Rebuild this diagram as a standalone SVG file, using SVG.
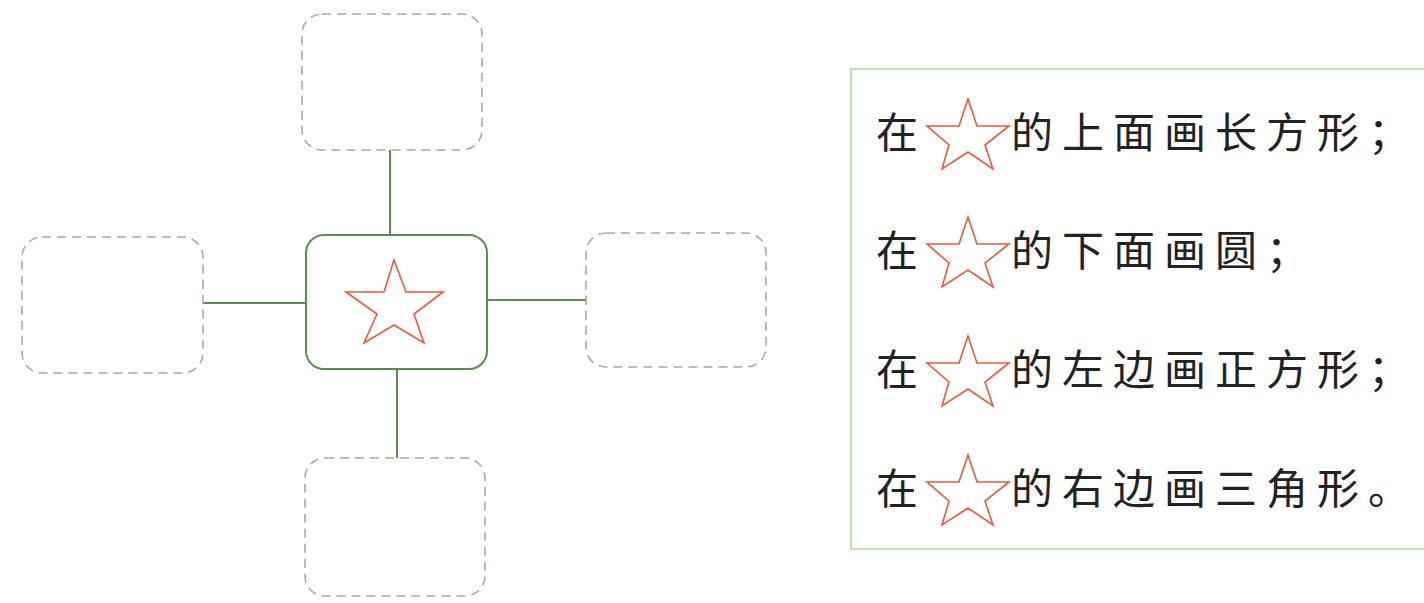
<svg xmlns="http://www.w3.org/2000/svg" width="1424" height="603" viewBox="0 0 1424 603">
<style>
.dash{fill:none;stroke:#a5ad94;stroke-width:1.6;stroke-dasharray:9 6}
.ctr{fill:#fff;stroke:#5e8c4e;stroke-width:2}
.conn{stroke:#5e8c4e;stroke-width:2;fill:none}
.star{fill:none;stroke:#e8583c;stroke-width:1.6;stroke-linejoin:miter}
.t{font-family:"Noto Sans CJK SC","Noto Sans CJK TC",sans-serif;font-size:42px;fill:#222;letter-spacing:9px}
</style>
<defs>
<polygon id="s" points="0,-34 9,-7 41,-7 17,12 25,36 0,19 -26,36 -19,12 -41,-7 -9,-7"/>
</defs>
<rect width="1424" height="603" fill="#fff"/>
<g id="connectors">
<line class="conn" x1="390" y1="150" x2="390" y2="235"/>
<line class="conn" x1="203" y1="303" x2="306" y2="303"/>
<line class="conn" x1="487" y1="300" x2="586" y2="300"/>
<line class="conn" x1="397" y1="369" x2="397" y2="458"/>
</g>
<g id="top"><rect class="dash" x="302" y="14" width="180" height="136" rx="20"/></g>
<g id="left"><rect class="dash" x="22" y="237" width="181" height="136" rx="20"/></g>
<g id="right"><rect class="dash" x="586" y="233" width="180" height="134" rx="20"/></g>
<g id="bottom"><rect class="dash" x="305" y="458" width="180" height="138" rx="20"/></g>
<g id="center">
<rect class="ctr" x="306" y="235" width="181" height="134" rx="18"/>
<polygon class="star" points="394,260 406,292 443,292 414,314 424,343 394,325 364,343 377,314 346,292 384,292"/>
</g>
<g id="panel">
<rect x="851" y="69" width="590" height="480" fill="none" stroke="#aedb92" stroke-width="1.6"/>
<text class="t" x="876" y="148">在</text>
<use href="#s" class="star" x="968" y="133"/>
<text class="t" x="1011" y="148">的上面画长方形；</text>
<text class="t" x="876" y="266">在</text>
<use href="#s" class="star" x="968" y="251"/>
<text class="t" x="1011" y="266">的下面画圆；</text>
<text class="t" x="876" y="385">在</text>
<use href="#s" class="star" x="968" y="370"/>
<text class="t" x="1011" y="385">的左边画正方形；</text>
<text class="t" x="876" y="504">在</text>
<use href="#s" class="star" x="968" y="489"/>
<text class="t" x="1011" y="504">的右边画三角形。</text>
</g>
</svg>
